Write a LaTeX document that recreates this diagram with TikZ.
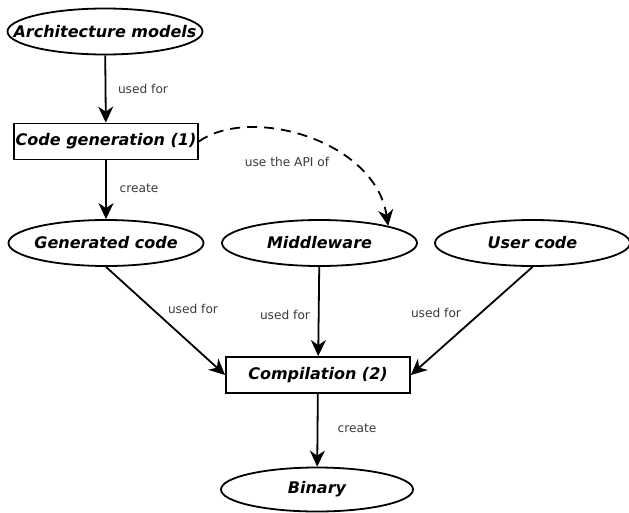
\documentclass[tikz,border=0pt]{standalone}
\usepackage{fontspec}
\setmainfont{DejaVu Sans}
\usetikzlibrary{shapes.geometric,arrows.meta}
\definecolor{labgray}{HTML}{3A3A3A}
\tikzset{
  ell/.style={draw, ellipse, line width=1.8pt, inner sep=0pt, minimum width=195pt, minimum height=46pt,
    font=\fontsize{16}{19}\selectfont\bfseries\itshape},
  boxn/.style={draw, rectangle, line width=1.8pt, inner sep=0pt, minimum width=184pt, minimum height=36pt,
    font=\fontsize{16}{19}\selectfont\bfseries\itshape},
  conn/.style={line width=1.8pt, -{Stealth[length=16pt,width=15pt,inset=5pt]}},
  lab/.style={font=\fontsize{12.2}{14}\selectfont, text=labgray, inner sep=0pt}
}
\newcommand{\zb}[1]{\makebox[0pt]{#1}}
\begin{document}
\begin{tikzpicture}[x=1pt,y=-1pt]
\useasboundingbox (0,0) rectangle (629,512);
\node[ell] (arch) at (105,31.5) {\zb{Architecture models}};
\node[boxn] (cg) at (106,141.5) {\zb{Code generation (1)}};
\node[ell] (gen) at (106,243) {\zb{Generated code}};
\node[ell] (mw) at (319.5,243) {\zb{Middleware}};
\node[ell] (uc) at (532.5,243) {\zb{User code}};
\node[boxn] (comp) at (318,375) {\zb{Compilation (2)}};
\node[ell, minimum width=192pt, minimum height=44pt] (bin) at (317,489.5) {\zb{Binary}};

\draw[conn] (arch) -- (cg) node[lab] at (143,89) {used for};
\draw[conn] (cg) -- (gen) node[lab] at (139,188) {create};
\draw[conn, dashed, dash pattern=on 10pt off 7pt] (cg.east) .. controls (250,105) and (375,140) .. (mw.14)
  node[lab] at (287,162) {use the API of};
\draw[conn] (gen.south) -- (comp.west) node[lab] at (193,309) {used for};
\draw[conn] (mw) -- (comp) node[lab] at (285,315) {used for};
\draw[conn] (uc.south) -- (comp.east) node[lab] at (436,313) {used for};
\draw[conn] (comp) -- (bin) node[lab] at (357,428) {create};
\end{tikzpicture}
\end{document}
